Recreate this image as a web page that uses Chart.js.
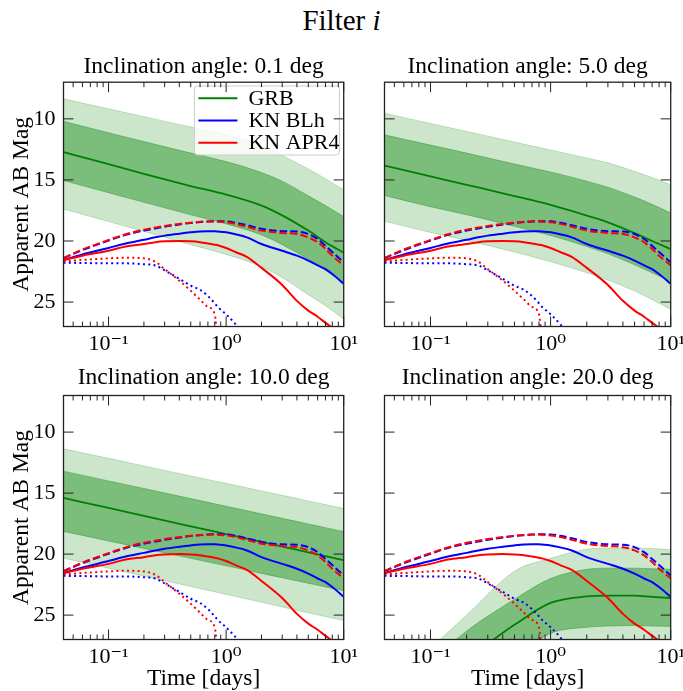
<!DOCTYPE html>
<html lang="en">
<head>
<meta charset="UTF-8">
<title>Filter i</title>
<script src="https://cdn.jsdelivr.net/npm/chart.js"></script>
<style>
  body {
    margin: 0;
    background: #fff;
    width: 683px;
    height: 691px;
    overflow: hidden;
    position: relative;
    font-family: "Liberation Serif", "DejaVu Serif", serif;
  }
  #suptitle {
    position: absolute;
    left: 0;
    top: 5px;
    width: 683px;
    text-align: center;
    font-size: 29px;
    line-height: 30px;
    color: #000;
  }
  canvas { position: absolute; }
</style>
</head>
<body>

<div id="suptitle">Filter <i>i</i></div>
<canvas id="p0"></canvas>
<canvas id="p1"></canvas>
<canvas id="p2"></canvas>
<canvas id="p3"></canvas>

<script>
  // ---- data (magnitudes, y axis is inverted) ----
  const grbDays = [0.0414, 0.1, 0.2, 0.5, 1, 2, 3, 5, 7, 10];
  const knDays = [0.0414, 0.06, 0.1, 0.14, 0.2, 0.25, 0.3, 0.4, 0.5, 0.6, 0.7, 0.8, 0.85,
                  1, 1.2, 1.5, 2, 3, 4, 5, 6, 7, 8, 10];

  // GRB bands, 0.1 deg
  const grbOuterHi01 = [8.36, 9.18, 9.82, 10.67, 11.3, 12.2, 13.0, 14.1, 14.9, 15.8];
  const grbInnerHi01 = [10.2, 11.14, 11.86, 12.8, 13.5, 14.4, 15.1, 16.3, 17.1, 18.0];
  const grbMedian01  = [12.73, 13.7, 14.5, 15.5, 16.2, 17.1, 17.9, 19.15, 20.1, 20.95];
  const grbInnerLo01 = [15.05, 16.05, 16.83, 17.86, 18.6, 19.5, 20.3, 21.5, 22.4, 23.45];
  const grbOuterLo01 = [17.38, 18.41, 19.22, 20.3, 21.1, 22.1, 23.0, 24.4, 25.3, 26.4];
  // GRB bands, 5.0 deg
  const grbOuterHi5 = [9.54, 10.38, 11.03, 11.9, 12.55, 13.2, 13.6, 14.3, 14.8, 15.4];
  const grbInnerHi5 = [11.31, 12.15, 12.8, 13.7, 14.35, 15.1, 15.6, 16.4, 17.0, 17.7];
  const grbMedian5  = [13.83, 14.71, 15.4, 16.32, 17.05, 17.92, 18.47, 19.35, 20.0, 20.66];
  const grbInnerLo5 = [16.28, 17.2, 17.85, 18.8, 19.55, 20.45, 21.05, 21.95, 22.6, 23.3];
  const grbOuterLo5 = [18.39, 19.3, 19.95, 20.9, 21.7, 22.6, 23.2, 24.1, 24.8, 25.6];
  // GRB bands, 10.0 deg
  const grbOuterHi10 = [11.37, 12.15, 12.77, 13.59, 14.2, 14.82, 15.18, 15.64, 15.94, 16.25];
  const grbInnerHi10 = [13.2, 14.0, 14.62, 15.45, 16.08, 16.7, 17.07, 17.53, 17.83, 18.15];
  const grbMedian10  = [15.4, 16.22, 16.86, 17.72, 18.36, 19.0, 19.38, 19.86, 20.17, 20.5];
  const grbInnerLo10 = [18.14, 18.92, 19.54, 20.35, 20.96, 21.58, 21.94, 22.39, 22.69, 23.0];
  const grbOuterLo10 = [20.33, 21.15, 21.8, 22.66, 23.3, 23.95, 24.33, 24.81, 25.12, 25.45];
  // GRB bands, 20.0 deg
  const grbOuterHi20 = [31.0, 27.7, 25.0, 21.4, 20.35, 19.6, 19.5, 19.5, 19.55, 19.65];
  const grbInnerHi20 = [31.8, 28.8, 26.3, 23.7, 22.0, 21.25, 21.15, 21.15, 21.2, 21.25];
  const grbMedian20  = [33.0, 30.5, 28.6, 25.8, 24.0, 23.47, 23.4, 23.4, 23.5, 23.6];
  const grbInnerLo20 = [34.0, 32.5, 31.0, 28.5, 26.5, 26.0, 25.9, 25.85, 25.9, 25.93];
  const grbOuterLo20 = [36.0, 35.0, 34.0, 32.0, 30.0, 28.6, 28.3, 28.1, 28.0, 28.0];

  // kilonova curves (same in all four panels)
  const blhSolid  = [21.56, 21.1, 20.57, 20.2, 19.9, 19.7, 19.56, 19.4, 19.29, 19.22, 19.2, 19.2, 19.22,
                     19.29, 19.45, 19.7, 20.25, 20.8, 21.2, 21.6, 22.0, 22.3, 22.7, 23.5];
  const blhDashed = [21.4, 20.75, 19.97, 19.5, 19.15, 18.97, 18.83, 18.65, 18.52, 18.45, 18.4, 18.38, 18.38,
                     18.39, 18.5, 18.7, 19.0, 19.2, 19.23, 19.43, 19.84, 20.4, 20.9, 21.75];
  const blhDotted = [21.78, 21.8, 21.83, 21.83, 21.9, 22.0, 22.4, 23.1, 23.66, 24.0, 24.5, 25.1, 25.4,
                     26.0, 26.8, 28.0, null, null, null, null, null, null, null, null];
  const apr4Solid  = [21.56, 21.2, 20.8, 20.45, 20.25, 20.1, 20.03, 20.0, 20.03, 20.1, 20.2, 20.3, 20.35,
                      20.57, 20.9, 21.3, 22.2, 23.6, 24.9, 25.7, 26.2, 26.7, 27.1, 27.8];
  const apr4Dashed = [21.4, 20.7, 19.92, 19.45, 19.07, 18.9, 18.77, 18.6, 18.5, 18.43, 18.4, 18.4, 18.42,
                      18.47, 18.6, 18.83, 19.15, 19.34, 19.43, 19.7, 20.1, 20.65, 21.2, 22.0];
  const apr4Dotted = [21.67, 21.55, 21.42, 21.37, 21.42, 21.7, 22.3, 23.25, 24.07, 24.8, 25.4, 26.0, 28.5,
                      null, null, null, null, null, null, null, null, null, null, null];

  const seriesNames = ['GRB', 'KN BLh', 'KN APR4'];
  const panelTitles = ['Inclination angle: 0.1 deg', 'Inclination angle: 5.0 deg',
                       'Inclination angle: 10.0 deg', 'Inclination angle: 20.0 deg'];
  const xTickValues = [0.1, 1, 10];
  const xTickLabels = ['10\u207B\u00B9', '10\u2070', '10\u00B9'];
  const xMinorValues = [0.05, 0.06, 0.07, 0.08, 0.09, 0.2, 0.3, 0.4, 0.5, 0.6, 0.7, 0.8, 0.9,
                        2, 3, 4, 5, 6, 7, 8, 9];
  const yTickValues = [10, 15, 20, 25];
  const yTickLabels = ['10', '15', '20', '25'];

  // ---- styling ----
  const FONT = "'Liberation Serif', 'DejaVu Serif', serif";
  const GREEN = '#008000', BLUE = '#0000ff', RED = '#ff0000';
  const DASH = [7.4, 3.2], DOT = [2, 3.3];
  const TITLE_SIZE = 23.5, TICK_SIZE = 22;

  Chart.defaults.font.family = FONT;
  Chart.defaults.color = '#000';

  // inward ticks on all four sides plus the axes frame
  const frameTicks = {
    id: 'frameTicks',
    afterDraw(chart) {
      const {ctx, chartArea: a, scales: {x, y}} = chart;
      ctx.save();
      ctx.strokeStyle = '#222';
      ctx.lineWidth = 1;
      const seg = (x1, y1, x2, y2) => { ctx.beginPath(); ctx.moveTo(x1, y1); ctx.lineTo(x2, y2); ctx.stroke(); };
      xMinorValues.forEach(v => {
        const px = x.getPixelForValue(v);
        seg(px, a.bottom, px, a.bottom - 5);
        seg(px, a.top, px, a.top + 5);
      });
      xTickValues.forEach(v => {
        const px = x.getPixelForValue(v);
        seg(px, a.bottom, px, a.bottom - 10);
        seg(px, a.top, px, a.top + 10);
      });
      yTickValues.forEach(v => {
        const py = y.getPixelForValue(v);
        seg(a.left, py, a.left + 10, py);
        seg(a.right, py, a.right - 10, py);
      });
      ctx.lineWidth = 1.3;
      ctx.strokeRect(a.left, a.top, a.right - a.left, a.bottom - a.top);
      ctx.restore();
    }
  };

  // legend box drawn inside the first panel (top right corner)
  const boxLegend = {
    id: 'boxLegend',
    afterDatasetsDraw(chart, args, opts) {
      if (!opts.show) return;
      const {ctx, chartArea: a} = chart;
      const bx = a.right - 149.3, by = a.top + 3.8, bw = 145, bh = 69;
      ctx.save();
      ctx.fillStyle = 'rgba(255,255,255,0.8)';
      ctx.strokeStyle = '#cccccc';
      ctx.lineWidth = 1;
      ctx.beginPath();
      ctx.roundRect(bx, by, bw, bh, 3);
      ctx.fill();
      ctx.stroke();
      const colors = [GREEN, BLUE, RED];
      ctx.font = '22px ' + FONT;
      ctx.textBaseline = 'middle';
      seriesNames.forEach((name, i) => {
        const ly = by + 12.3 + i * 22.2;
        ctx.strokeStyle = colors[i];
        ctx.lineWidth = 2;
        ctx.beginPath();
        ctx.moveTo(bx + 4, ly);
        ctx.lineTo(bx + 43, ly);
        ctx.stroke();
        ctx.fillStyle = '#000';
        ctx.fillText(name, bx + 54, ly + 1);
      });
      ctx.restore();
    }
  };

  function pts(days, vals) {
    return days.map((d, i) => ({x: d, y: vals[i]}));
  }

  function grbSets(outerHi, innerHi, median, innerLo, outerLo) {
    return [
      {data: pts(grbDays, outerHi), fill: '+1', backgroundColor: 'rgba(0,128,0,0.2)',
       borderColor: 'rgba(0,128,0,0.2)', borderWidth: 1, order: 5},
      {data: pts(grbDays, outerLo), fill: false, borderColor: 'rgba(0,128,0,0.2)', borderWidth: 1, order: 5},
      {data: pts(grbDays, innerHi), fill: '+1', backgroundColor: 'rgba(0,128,0,0.4)',
       borderColor: 'rgba(0,128,0,0.35)', borderWidth: 1, order: 4},
      {data: pts(grbDays, innerLo), fill: false, borderColor: 'rgba(0,128,0,0.35)', borderWidth: 1, order: 4},
      {data: pts(grbDays, median), fill: false, borderColor: GREEN, borderWidth: 1.8, order: 3}
    ];
  }

  function knSets() {
    return [
      {data: pts(knDays, blhSolid), borderColor: BLUE, borderWidth: 2, order: 2},
      {data: pts(knDays, blhDashed), borderColor: BLUE, borderWidth: 2, borderDash: DASH, order: 2},
      {data: pts(knDays, blhDotted), borderColor: BLUE, borderWidth: 2, borderDash: DOT, order: 2},
      {data: pts(knDays, apr4Solid), borderColor: RED, borderWidth: 2, order: 1},
      {data: pts(knDays, apr4Dashed), borderColor: RED, borderWidth: 2, borderDash: DASH, order: 1},
      {data: pts(knDays, apr4Dotted), borderColor: RED, borderWidth: 2, borderDash: DOT, order: 1}
    ];
  }

  const grbPanels = [
    [grbOuterHi01, grbInnerHi01, grbMedian01, grbInnerLo01, grbOuterLo01],
    [grbOuterHi5, grbInnerHi5, grbMedian5, grbInnerLo5, grbOuterLo5],
    [grbOuterHi10, grbInnerHi10, grbMedian10, grbInnerLo10, grbOuterLo10],
    [grbOuterHi20, grbInnerHi20, grbMedian20, grbInnerLo20, grbOuterLo20]
  ];

  // canvas boxes: [left, top, width, height]; plot areas are fixed through afterFit
  const boxes = [
    [0, 40, 363, 325], [355, 40, 335, 325],
    [0, 355, 363, 336], [355, 355, 335, 336]
  ];

  grbPanels.forEach((g, k) => {
    const leftCol = k % 2 === 0;
    const bottomRow = k >= 2;
    const [cx, cy, cw, ch] = boxes[k];
    const canvas = document.getElementById('p' + k);
    canvas.width = cw;
    canvas.height = ch;
    canvas.style.left = cx + 'px';
    canvas.style.top = cy + 'px';

    const plotLeft = leftCol ? 63.5 : 384.5;
    const plotRight = leftCol ? 349.3 : 670.8;
    const plotBottom = bottomRow ? 639.5 : 326.5;
    const titlePadTop = bottomRow ? 11.25 : 14.95;
    const titlePadBottom = bottomRow ? 5.75 : 3.75;

    new Chart(canvas, {
      type: 'line',
      data: {datasets: grbSets(...g).concat(knSets())},
      options: {
        responsive: false,
        animation: false,
        devicePixelRatio: 1,
        events: [],
        layout: {padding: {left: 0, top: 0, bottom: 0, right: cx + cw - plotRight}},
        elements: {
          point: {radius: 0, hitRadius: 0},
          line: {cubicInterpolationMode: 'monotone', fill: false, borderCapStyle: 'butt'}
        },
        scales: {
          x: {
            type: 'logarithmic',
            min: 0.0414,
            max: 10,
            grid: {display: false, drawTicks: false},
            border: {display: false},
            afterBuildTicks: s => { s.ticks = xTickValues.map(v => ({value: v})); },
            ticks: {
              autoSkip: false, maxRotation: 0, padding: 5,
              font: {size: TICK_SIZE}, color: '#000',
              callback: (v, i) => xTickLabels[i]
            },
            title: {
              display: bottomRow, text: 'Time [days]', color: '#000',
              font: {size: TITLE_SIZE, lineHeight: 1}, padding: {top: 0, bottom: 0}
            },
            afterFit: s => { s.height = cy + ch - plotBottom; }
          },
          y: {
            type: 'linear',
            min: 7,
            max: 27,
            reverse: true,
            grid: {display: false, drawTicks: false},
            border: {display: false},
            afterBuildTicks: s => { s.ticks = yTickValues.map(v => ({value: v})); },
            ticks: {
              display: leftCol, padding: 8,
              font: {size: TICK_SIZE}, color: '#000',
              callback: (v, i) => yTickLabels[i]
            },
            title: {
              display: leftCol, text: 'Apparent AB Mag', color: '#000',
              font: {size: TITLE_SIZE, lineHeight: 1}, padding: {top: 10, bottom: 0}
            },
            afterFit: s => { s.width = plotLeft - cx; }
          }
        },
        plugins: {
          legend: {display: false},
          tooltip: {enabled: false},
          title: {
            display: true,
            text: panelTitles[k],
            fullSize: false,
            color: '#000',
            font: {size: TITLE_SIZE, weight: 'normal', lineHeight: 1},
            padding: {top: titlePadTop, bottom: titlePadBottom}
          },
          boxLegend: {show: k === 0}
        }
      },
      plugins: [frameTicks, boxLegend]
    });
  });
</script>

</body>
</html>
